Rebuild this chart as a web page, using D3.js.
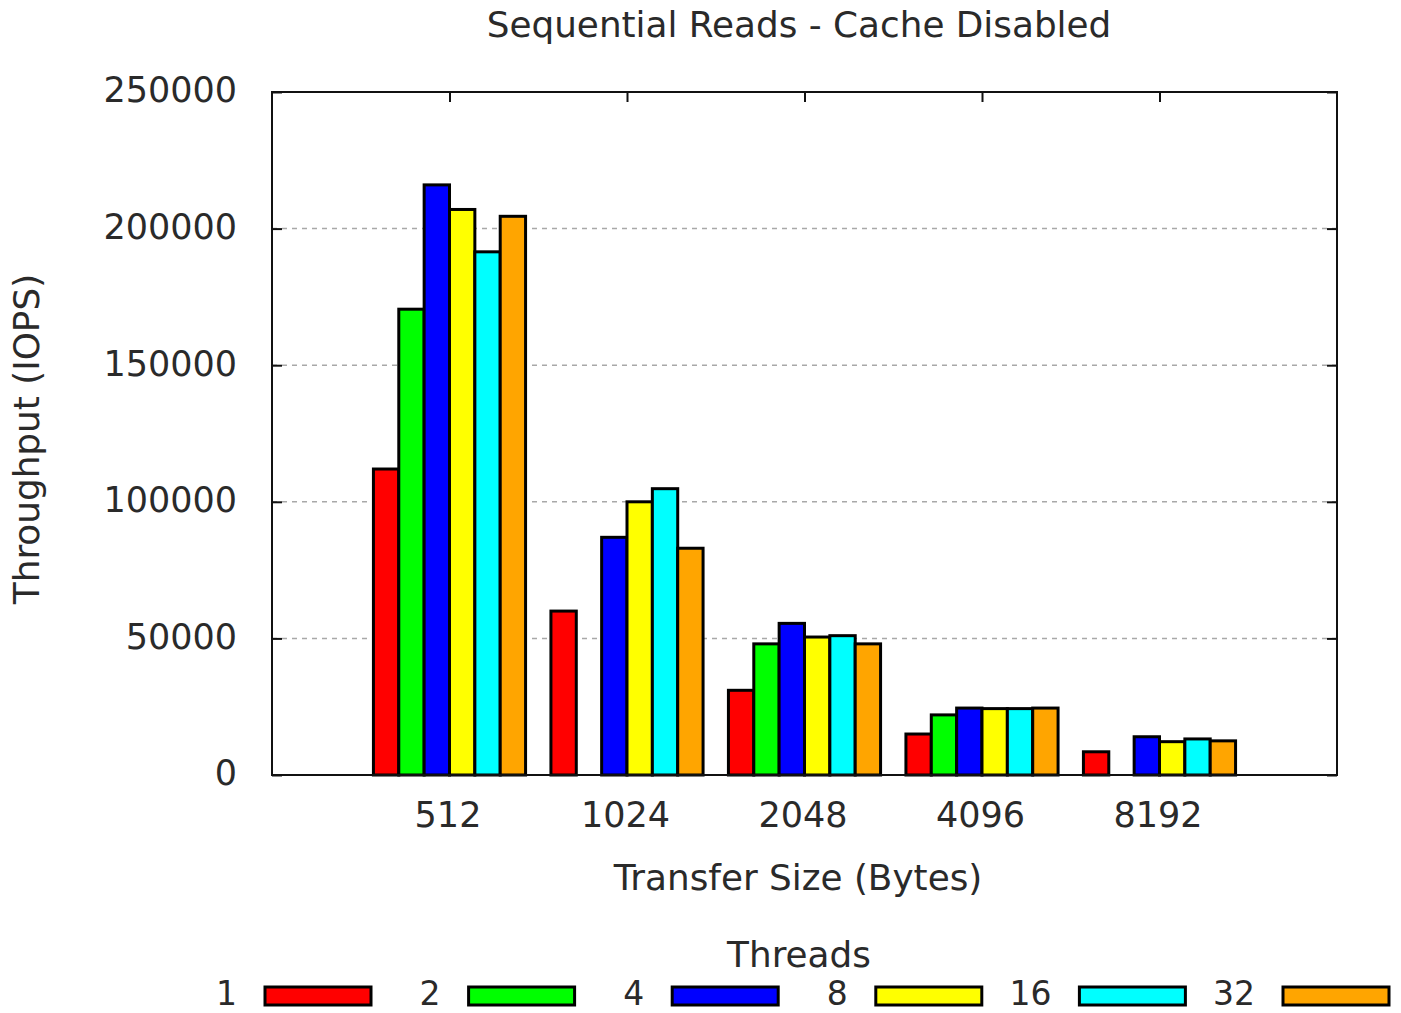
<!DOCTYPE html>
<html>
<head>
<meta charset="utf-8">
<script src="https://cdnjs.cloudflare.com/ajax/libs/d3/7.8.5/d3.min.js"></script>
<style>
  html, body { margin: 0; padding: 0; background: #fff; }
  svg { display: block; }
  text { font-family: "DejaVu Sans", sans-serif; fill: #2a2a2a; }
</style>
</head>
<body>
<svg id="chart" width="1401" height="1013"></svg>
<script>
// ---- data ----
const categories = ["512", "1024", "2048", "4096", "8192"];
const seriesNames = ["1", "2", "4", "8", "16", "32"];
const seriesColors = ["#ff0000", "#00ff00", "#0000ff", "#ffff00", "#00ffff", "#ffa500"];
const threads1  = [112000, 60000, 31000, 15000, 8500];
const threads2  = [170500, 0, 48000, 22000, 0];
const threads4  = [216000, 87000, 55500, 24500, 14000];
const threads8  = [207000, 100000, 50500, 24300, 12200];
const threads16 = [191500, 104800, 51000, 24300, 13200];
const threads32 = [204500, 83000, 48000, 24500, 12500];
const seriesValues = [threads1, threads2, threads4, threads8, threads16, threads32];
const yTicks = [0, 50000, 100000, 150000, 200000, 250000];

const titleText = "Sequential Reads - Cache Disabled";
const xLabel = "Transfer Size (Bytes)";
const yLabel = "Throughput (IOPS)";
const legendTitle = "Threads";

// ---- layout ----
const L = 272, R = 1337, T = 92, B = 775;
const svg = d3.select("#chart");

const x = d3.scaleLinear().domain([-1, categories.length]).range([L, R]);
const nS = seriesNames.length;
const inner = d3.scaleBand().domain(d3.range(nS)).range([-nS / (2 * (nS + 1)), nS / (2 * (nS + 1))]);
const y = d3.scaleLinear().domain([0, 250000]).range([B, T]);

// grid
svg.append("g").selectAll("line")
  .data(yTicks.filter(v => v > 0 && v < 250000))
  .join("line")
  .attr("x1", L).attr("x2", R)
  .attr("y1", d => y(d)).attr("y2", d => y(d))
  .attr("stroke", "#a8a8a8").attr("stroke-width", 1.5)
  .attr("stroke-dasharray", "5,5");

// y axis left (ticks inward) and right mirror
const yAxisL = d3.axisLeft(y).tickValues(yTicks).tickSize(-10).tickPadding(35).tickFormat(d3.format("d"));
const gL = svg.append("g").attr("transform", `translate(${L},0)`).call(yAxisL);
gL.select(".domain").remove();
gL.selectAll("line").attr("stroke", "#111").attr("stroke-width", 2);
gL.selectAll("text").style("font-family", "DejaVu Sans").style("font-size", "35px").attr("fill", "#2a2a2a").attr("dy", "0.28em");

const yAxisR = d3.axisRight(y).tickValues(yTicks).tickSize(-10).tickFormat("");
const gR = svg.append("g").attr("transform", `translate(${R},0)`).call(yAxisR);
gR.select(".domain").remove();
gR.selectAll("line").attr("stroke", "#111").attr("stroke-width", 2);

// x axis top mirror ticks and bottom ticks + labels
const xTop = d3.axisTop(x).tickValues(d3.range(categories.length)).tickSize(-10).tickFormat("");
const gT = svg.append("g").attr("transform", `translate(0,${T})`).call(xTop);
gT.select(".domain").remove();
gT.selectAll("line").attr("stroke", "#111").attr("stroke-width", 2);

const xBot = d3.axisBottom(x).tickValues(d3.range(categories.length)).tickSize(-10).tickPadding(27)
  .tickFormat(i => categories[i]);
const gB = svg.append("g").attr("transform", `translate(0,${B})`).call(xBot);
gB.select(".domain").remove();
gB.selectAll("line").attr("stroke", "#111").attr("stroke-width", 2);
gB.selectAll("text").style("font-family", "DejaVu Sans").style("font-size", "35px").attr("fill", "#2a2a2a").attr("dx", "-2");

// bars
const barData = [];
seriesValues.forEach((vals, s) => vals.forEach((v, c) => barData.push({ s, c, v })));
svg.append("g").selectAll("rect")
  .data(barData.filter(d => d.v > 0))
  .join("rect")
  .attr("x", d => x(d.c + inner(d.s)))
  .attr("width", d => x(d.c + inner(d.s) + inner.bandwidth()) - x(d.c + inner(d.s)))
  .attr("y", d => y(d.v))
  .attr("height", d => y(0) - y(d.v))
  .attr("fill", d => seriesColors[d.s])
  .attr("stroke", "#000").attr("stroke-width", 3);

// frame
svg.append("rect").attr("x", L).attr("y", T).attr("width", R - L).attr("height", B - T)
  .attr("fill", "none").attr("stroke", "#111").attr("stroke-width", 2);

// title & labels
svg.append("text").attr("x", 799).attr("y", 37).attr("text-anchor", "middle")
  .style("font-size", "35.8px").text(titleText);
svg.append("text").attr("x", 798).attr("y", 890).attr("text-anchor", "middle")
  .style("font-size", "35.8px").text(xLabel);
svg.append("text").attr("transform", "translate(39,439) rotate(-90)").attr("text-anchor", "middle")
  .style("font-size", "35.8px").text(yLabel);

// legend
svg.append("text").attr("x", 799).attr("y", 967).attr("text-anchor", "middle")
  .style("font-size", "35.8px").text(legendTitle);
const legX = d3.scaleLinear().domain([0, nS - 1]).range([265, 1283]);
const lg = svg.append("g").selectAll("g").data(seriesNames).join("g")
  .attr("transform", (d, i) => `translate(${legX(i)},987)`);
lg.append("rect").attr("x", 0).attr("y", 0).attr("width", 106).attr("height", 18)
  .attr("fill", (d, i) => seriesColors[i]).attr("stroke", "#000").attr("stroke-width", 3);
lg.append("text").attr("x", -28).attr("y", 18).attr("text-anchor", "end")
  .style("font-size", "33px").text(d => d);
</script>
</body>
</html>
